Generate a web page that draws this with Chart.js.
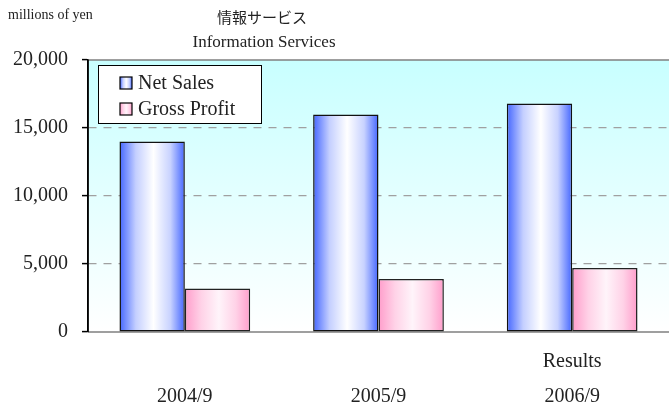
<!DOCTYPE html>
<html><head><meta charset="utf-8">
<script src="https://cdn.jsdelivr.net/npm/chart.js@4.4.1/dist/chart.umd.min.js"></script>
<style>html,body{margin:0;padding:0;background:#fff}#w{width:669px;height:410px}</style>
</head><body><div id="w"><canvas id="c" width="669" height="410"></canvas></div>
<script>
const categories = [["", "2004/9"], ["", "2005/9"], ["Results", "2006/9"]];
const netSales = [14000, 16000, 16800];
const grossProfit = [3200, 3900, 4700];
const yTicks = [0, 5000, 10000, 15000, 20000];
const seriesNames = ["Net Sales", "Gross Profit"];
const unitLabel = "millions of yen";
const titleJa = "情報サービス";
const titleEn = "Information Services";

const SERIF = "'Liberation Serif', 'DejaVu Serif', serif";
const CAT_PCT = 0.675;
const palettes = [
  [[0, '#4466ff'], [0.25, '#c4cfff'], [0.52, '#ffffff'], [0.78, '#c8d2ff'], [1, '#4466ff']],
  [[0, '#ff9dcb'], [0.25, '#ffd2e7'], [0.52, '#fff4fa'], [0.78, '#ffd2e7'], [1, '#ff9dcb']]
];
function grad(ctx, x0, x1, pal) {
  const g = ctx.createLinearGradient(x0, 0, x1, 0);
  pal.forEach(s => g.addColorStop(s[0], s[1]));
  return g;
}
function barFill(dsIndex) {
  return function(c) {
    const chart = c.chart;
    const xs = chart.scales.x;
    if (!chart.chartArea || !xs || c.dataIndex === undefined) return palettes[dsIndex][0][1];
    const cw = (xs.right - xs.left) / categories.length;
    const bw = cw * CAT_PCT / 2;
    const cx = xs.getPixelForValue(c.dataIndex);
    const x0 = dsIndex === 0 ? cx - bw : cx;
    return grad(chart.ctx, x0, x0 + bw, palettes[dsIndex]);
  };
}

const decor = {
  id: 'decor',
  beforeDraw(chart) {
    const {ctx, chartArea: a} = chart;
    ctx.save();
    const g = ctx.createLinearGradient(0, a.top, 0, a.bottom);
    g.addColorStop(0, '#c8ffff');
    g.addColorStop(1, '#ffffff');
    ctx.fillStyle = g;
    ctx.fillRect(a.left, a.top, a.right - a.left, a.bottom - a.top);
    ctx.strokeStyle = '#808080';
    ctx.lineWidth = 1.5;
    ctx.beginPath();
    ctx.moveTo(a.left, a.top); ctx.lineTo(a.right, a.top);
    ctx.moveTo(a.left, a.bottom); ctx.lineTo(a.right, a.bottom);
    ctx.stroke();
    ctx.fillStyle = '#222';
    ctx.textBaseline = 'middle';
    ctx.font = "14px " + SERIF;
    ctx.textAlign = 'left';
    ctx.fillText(unitLabel, 8, 15);
    ctx.textAlign = 'center';
    ctx.font = "15px 'Noto Sans CJK JP', sans-serif";
    ctx.fillText(titleJa, 262, 17);
    ctx.font = "17px " + SERIF;
    ctx.fillText(titleEn, 264, 43);
    ctx.restore();
  },
  afterDraw(chart) {
    const {ctx, chartArea: a} = chart;
    ctx.save();
    ctx.strokeStyle = '#000'; ctx.lineWidth = 1.5; ctx.setLineDash([]);
    ctx.beginPath(); ctx.moveTo(a.left, a.top); ctx.lineTo(a.left, a.bottom); ctx.stroke();
    const bx = 98, by = 65, bw = 163, bh = 58;
    ctx.fillStyle = '#fff';
    ctx.fillRect(bx, by, bw, bh);
    ctx.strokeStyle = '#000'; ctx.lineWidth = 1;
    ctx.strokeRect(bx + 0.5, by + 0.5, bw, bh);
    ctx.font = "20px " + SERIF;
    ctx.textBaseline = 'middle';
    ctx.textAlign = 'left';
    seriesNames.forEach((n, i) => {
      const y = by + 18 + i * 26;
      const sx = 120, s = 12;
      ctx.fillStyle = grad(ctx, sx, sx + s, palettes[i]);
      ctx.fillRect(sx, y - s / 2, s, s);
      ctx.strokeStyle = '#000'; ctx.lineWidth = 1.2;
      ctx.strokeRect(sx, y - s / 2, s, s);
      ctx.fillStyle = '#222';
      ctx.fillText(n, sx + 18, y + 1);
    });
    ctx.restore();
  }
};

new Chart(document.getElementById('c'), {
  type: 'bar',
  data: {
    labels: categories,
    datasets: [
      { label: seriesNames[0], data: netSales, backgroundColor: barFill(0), borderColor: '#111', borderWidth: 1.5, borderSkipped: false, categoryPercentage: CAT_PCT, barPercentage: 1 },
      { label: seriesNames[1], data: grossProfit, backgroundColor: barFill(1), borderColor: '#222', borderWidth: 1.5, borderSkipped: false, categoryPercentage: CAT_PCT, barPercentage: 1 }
    ]
  },
  options: {
    responsive: false,
    animation: false,
    devicePixelRatio: 1,
    layout: { padding: { top: 60, right: 0, left: 0, bottom: 0 } },
    plugins: { legend: { display: false }, tooltip: { enabled: false }, title: { display: false } },
    scales: {
      x: {
        grid: { display: false },
        border: { display: false },
        ticks: { color: '#222', font: { family: SERIF, size: 20, lineHeight: 1.75 }, padding: 4, maxRotation: 0 },
        afterFit(s) { s.height = 78; }
      },
      y: {
        min: 0, max: 20000,
        afterBuildTicks(s) { s.ticks = yTicks.map(v => ({ value: v })); },
        grid: { lineWidth: 1.2, tickColor: '#000', tickLength: 6, tickBorderDash: [0, 0], tickWidth: 1.5,
                color: (c) => (c.tick && (c.tick.value === 0 || c.tick.value === 20000)) ? 'rgba(0,0,0,0)' : '#a0a0a0' },
        border: { display: true, color: '#000', width: 1.5, dash: [8, 7] },
        ticks: { color: '#222', font: { family: SERIF, size: 20 }, padding: 14,
                 callback: (v) => v.toLocaleString('en-US') },
        afterFit(s) { s.width = 88; }
      }
    }
  },
  plugins: [decor]
});
</script>
</body></html>
